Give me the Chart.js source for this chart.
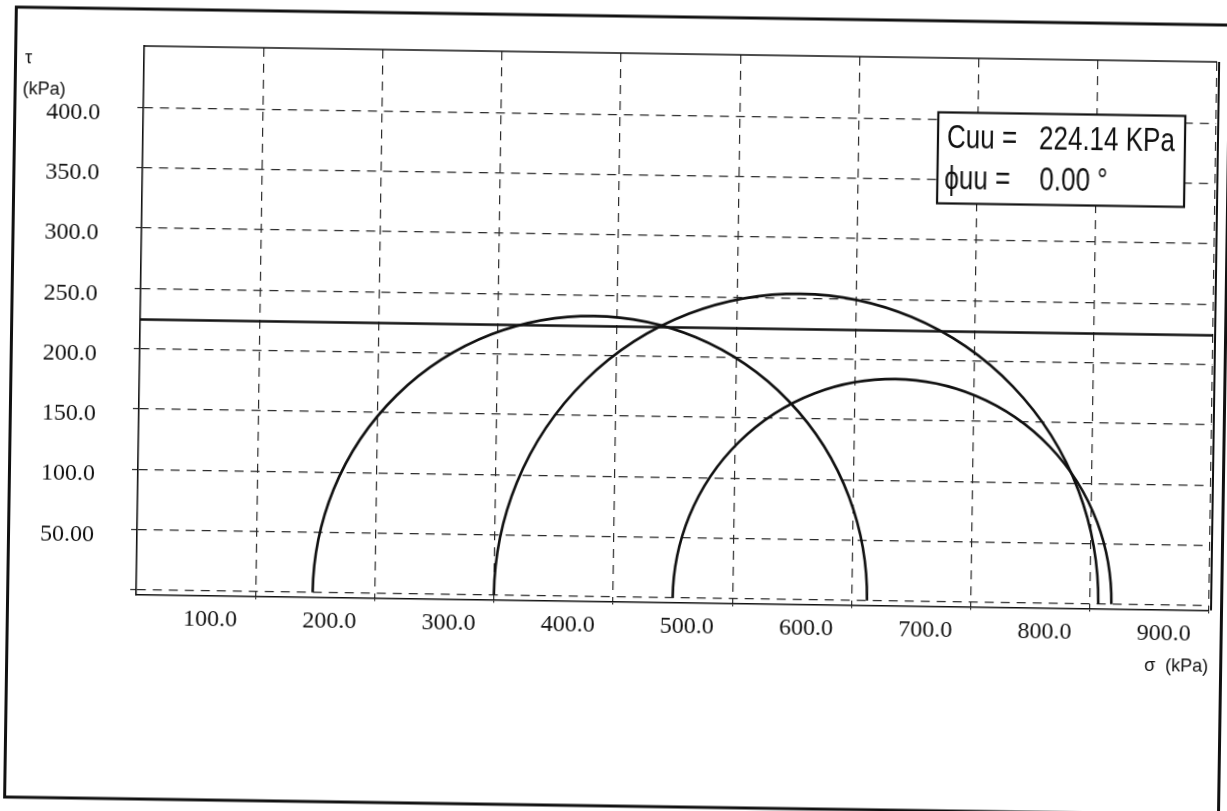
<!DOCTYPE html>
<html>
<head>
<meta charset="utf-8">
<title>Mohr circles - UU test</title>
<script src="https://cdn.jsdelivr.net/npm/chart.js@4.4.1/dist/chart.umd.min.js"></script>
<style>
  html, body { margin: 0; padding: 0; background: #fff; overflow: hidden; }
  /* the original is a slightly skewed scan */
  #wrap { width: 1227px; height: 811px; transform: rotate(0.85deg); }
</style>
</head>
<body>
<div id="wrap"><canvas id="mohr" width="1227" height="811"></canvas></div>
<script>
// UU triaxial test, total stresses in kPa
const sigma3 = [148, 300, 450];
const sigma1 = [613, 807, 818];
const cuu = 224.14;
const phiUU = 0.0;

const xTicks = [100, 200, 300, 400, 500, 600, 700, 800, 900];
const xTickLabels = ["100.0", "200.0", "300.0", "400.0", "500.0", "600.0", "700.0", "800.0", "900.0"];
const yTicks = [0, 50, 100, 150, 200, 250, 300, 350, 400];
const yTickLabels = ["", "50.00", "100.0", "150.0", "200.0", "250.0", "300.0", "350.0", "400.0"];

const INK = "#111";
const GRID = "#2a2a2a";

// Mohr half circles, drawn from sigma3 / sigma1 through the chart scales
const mohrCircles = {
  id: "mohrCircles",
  afterDatasetsDraw(chart) {
    const { ctx, chartArea: a, scales: { x, y } } = chart;
    ctx.save();
    ctx.beginPath();
    ctx.rect(a.left, a.top, a.right - a.left, a.bottom - a.top);
    ctx.clip();
    ctx.strokeStyle = INK;
    ctx.lineWidth = 2.6;
    sigma3.forEach((s3, i) => {
      const s1 = sigma1[i];
      const c = (s3 + s1) / 2;
      const r = (s1 - s3) / 2;
      const cx = x.getPixelForValue(c);
      const cy = y.getPixelForValue(0);
      const rx = x.getPixelForValue(s1) - cx;
      const ry = cy - y.getPixelForValue(r);
      ctx.beginPath();
      ctx.ellipse(cx, cy, rx, ry, 0, Math.PI, 2 * Math.PI);
      ctx.stroke();
    });
    ctx.restore();
  }
};

// frame, plot box, axis titles and the result box
const decorations = {
  id: "decorations",
  afterDraw(chart) {
    const { ctx, chartArea: a } = chart;
    ctx.save();
    ctx.strokeStyle = INK;

    ctx.lineWidth = 1.6;
    ctx.beginPath();
    ctx.moveTo(a.left, a.top);
    ctx.lineTo(a.right, a.top);
    ctx.stroke();
    ctx.lineWidth = 2;
    ctx.beginPath();
    ctx.moveTo(a.right + 2, a.top);
    ctx.lineTo(a.right + 2, a.bottom);
    ctx.stroke();

    ctx.lineWidth = 3;
    ctx.strokeRect(10.5, 16, 1214, 790);

    ctx.fillStyle = INK;
    ctx.font = "18px 'Liberation Sans', Arial, sans-serif";
    ctx.textBaseline = "alphabetic";
    ctx.textAlign = "left";
    ctx.fillText("\u03c4", 20, 72);
    ctx.fillText("(kPa)", 18, 103);
    ctx.textAlign = "right";
    ctx.fillText("\u03c3  (kPa)", a.right, 663);

    // result box
    const bx = 934, by = 107.5, bw = 247, bh = 91;
    ctx.fillStyle = "#fff";
    ctx.fillRect(bx, by, bw, bh);
    ctx.lineWidth = 2.2;
    ctx.strokeRect(bx, by, bw, bh);

    ctx.fillStyle = INK;
    ctx.textAlign = "left";
    ctx.font = "26px 'Liberation Sans', Arial, 'DejaVu Sans', sans-serif";
    const row = (txt, px, base) => {
      ctx.save();
      ctx.translate(px, base);
      ctx.scale(1, 1.3);
      ctx.fillText(txt, 0, 0);
      ctx.restore();
    };
    row("Cuu =", 943, 142.5);
    row(cuu.toFixed(2) + " KPa", 1035, 142.5);
    row("\u03d5uu =", 941, 183.5);
    row(phiUU.toFixed(2) + " \u00b0", 1036, 183.5);
    ctx.restore();
  }
};

new Chart(document.getElementById("mohr"), {
  type: "scatter",
  data: {
    datasets: [{
      label: "Cuu",
      data: [{ x: 0, y: cuu }, { x: 900, y: cuu }],
      showLine: true,
      borderColor: INK,
      borderWidth: 2.6,
      pointRadius: 0,
      tension: 0
    }]
  },
  options: {
    responsive: false,
    animation: false,
    devicePixelRatio: 1,
    layout: { padding: { left: 0, top: 53, right: 15, bottom: 0 } },
    plugins: {
      legend: { display: false },
      tooltip: { enabled: false }
    },
    scales: {
      x: {
        type: "linear",
        min: 0,
        max: 900,
        afterBuildTicks: s => { s.ticks = xTicks.map(v => ({ value: v })); },
        afterFit: s => {
          s.height = 811 - 601.5;
          s.paddingLeft = 0;
          s.paddingRight = 0;
        },
        ticks: {
          autoSkip: false,
          maxRotation: 0,
          minRotation: 0,
          labelOffset: -45,
          padding: 7,
          color: INK,
          font: { family: "'Liberation Serif', 'Times New Roman', serif", size: 24 },
          callback: v => xTickLabels[xTicks.indexOf(v)]
        },
        grid: { color: GRID, lineWidth: 1.2, drawTicks: true, tickLength: 3 },
        border: { display: true, color: INK, width: 1.6, dash: [9, 7] }
      },
      y: {
        type: "linear",
        min: -4,
        max: 451,
        afterBuildTicks: s => { s.ticks = yTicks.map(v => ({ value: v })); },
        afterFit: s => {
          s.width = 139;
          s.paddingTop = 0;
          s.paddingBottom = 0;
        },
        ticks: {
          autoSkip: false,
          labelOffset: 6,
          padding: 37,
          color: INK,
          font: { family: "'Liberation Serif', 'Times New Roman', serif", size: 24 },
          callback: v => yTickLabels[yTicks.indexOf(v)]
        },
        grid: { color: GRID, lineWidth: 1.2, drawTicks: true, tickLength: 6 },
        border: { display: true, color: INK, width: 1.6, dash: [9, 7] }
      }
    }
  },
  plugins: [mohrCircles, decorations]
});
</script>
</body>
</html>
